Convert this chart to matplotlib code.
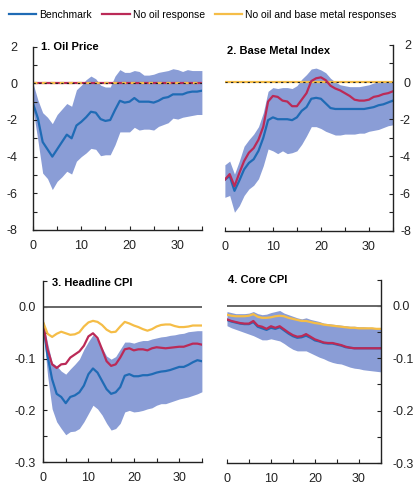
import matplotlib
matplotlib.use("Agg")
import matplotlib.pyplot as plt
from matplotlib.ticker import MultipleLocator, FormatStrFormatter
import numpy as np

plt.rcParams['font.family'] = ['Liberation Sans', 'DejaVu Sans']

horizon = list(range(36))

# Panel 1: Oil price
oil_bench = [-1.1,-1.9,-3.2,-3.6,-4.0,-3.6,-3.2,-2.8,-3.0,-2.3,-2.1,-1.85,-1.55,-1.6,-1.95,-2.05,-2.0,-1.45,-0.95,-1.05,-1.0,-0.8,-1.0,-1.0,-1.0,-1.05,-0.95,-0.8,-0.75,-0.6,-0.6,-0.6,-0.5,-0.45,-0.45,-0.4]
oil_hi = [0.0,-0.9,-1.6,-1.85,-2.2,-1.7,-1.4,-1.1,-1.25,-0.35,-0.1,0.2,0.4,0.25,-0.1,-0.2,-0.2,0.4,0.75,0.6,0.6,0.7,0.65,0.45,0.45,0.5,0.6,0.65,0.7,0.8,0.75,0.65,0.75,0.7,0.7,0.7]
oil_lo = [-1.4,-3.1,-4.9,-5.2,-5.8,-5.35,-5.1,-4.8,-4.95,-4.25,-4.0,-3.8,-3.55,-3.6,-3.95,-3.9,-3.9,-3.35,-2.65,-2.65,-2.65,-2.4,-2.55,-2.5,-2.5,-2.55,-2.35,-2.25,-2.15,-1.9,-1.95,-1.85,-1.8,-1.75,-1.7,-1.7]
oil_nooil = [0.0]*36
oil_nooilmetal = [0.0]*36

# Panel 2: Base metal index
bm_bench = [-5.25,-5.05,-5.85,-5.3,-4.7,-4.35,-4.15,-3.7,-3.0,-2.05,-1.9,-2.0,-2.0,-2.0,-2.05,-1.9,-1.55,-1.35,-0.9,-0.85,-0.9,-1.15,-1.4,-1.45,-1.45,-1.45,-1.45,-1.45,-1.45,-1.45,-1.4,-1.35,-1.25,-1.2,-1.1,-1.0]
bm_nooil = [-5.25,-4.95,-5.6,-4.9,-4.25,-3.8,-3.55,-3.1,-2.4,-1.05,-0.75,-0.8,-1.0,-1.05,-1.3,-1.3,-0.95,-0.6,0.05,0.2,0.25,0.1,-0.2,-0.35,-0.45,-0.6,-0.75,-0.95,-1.0,-1.0,-0.95,-0.8,-0.75,-0.65,-0.6,-0.5]
bm_nooilmetal = [0.0]*36
bm_hi = [-4.45,-4.25,-4.95,-4.25,-3.45,-3.1,-2.8,-2.4,-1.65,-0.5,-0.3,-0.35,-0.3,-0.3,-0.35,-0.2,0.15,0.4,0.7,0.75,0.65,0.5,0.2,0.0,-0.15,-0.2,-0.25,-0.25,-0.25,-0.2,-0.15,-0.05,0.0,0.0,0.05,0.05]
bm_lo = [-6.2,-6.1,-7.0,-6.65,-6.1,-5.75,-5.55,-5.2,-4.5,-3.6,-3.7,-3.85,-3.7,-3.85,-3.8,-3.7,-3.35,-2.9,-2.4,-2.4,-2.5,-2.65,-2.75,-2.85,-2.85,-2.8,-2.8,-2.8,-2.75,-2.75,-2.65,-2.6,-2.55,-2.45,-2.35,-2.3]

# Panel 3: Headline CPI
hcpi_bench = [-0.032,-0.095,-0.140,-0.168,-0.174,-0.186,-0.174,-0.171,-0.165,-0.152,-0.130,-0.119,-0.127,-0.143,-0.159,-0.168,-0.165,-0.155,-0.133,-0.130,-0.134,-0.134,-0.132,-0.132,-0.130,-0.127,-0.125,-0.124,-0.122,-0.119,-0.116,-0.116,-0.112,-0.107,-0.103,-0.105]
hcpi_nooil = [-0.032,-0.082,-0.111,-0.118,-0.111,-0.110,-0.098,-0.092,-0.086,-0.075,-0.057,-0.051,-0.060,-0.082,-0.105,-0.114,-0.111,-0.098,-0.082,-0.080,-0.084,-0.082,-0.082,-0.084,-0.080,-0.078,-0.079,-0.080,-0.079,-0.078,-0.077,-0.077,-0.074,-0.071,-0.071,-0.073]
hcpi_nooilmetal = [-0.029,-0.052,-0.058,-0.052,-0.048,-0.051,-0.054,-0.053,-0.049,-0.038,-0.030,-0.027,-0.029,-0.035,-0.044,-0.049,-0.048,-0.038,-0.029,-0.032,-0.036,-0.039,-0.043,-0.046,-0.043,-0.038,-0.035,-0.034,-0.034,-0.037,-0.039,-0.039,-0.038,-0.036,-0.036,-0.036]
hcpi_hi = [-0.029,-0.070,-0.108,-0.114,-0.124,-0.130,-0.120,-0.111,-0.101,-0.082,-0.067,-0.054,-0.063,-0.079,-0.095,-0.101,-0.096,-0.082,-0.068,-0.068,-0.070,-0.067,-0.065,-0.065,-0.062,-0.060,-0.058,-0.057,-0.055,-0.054,-0.052,-0.051,-0.048,-0.047,-0.046,-0.046]
hcpi_lo = [-0.041,-0.133,-0.197,-0.222,-0.235,-0.247,-0.241,-0.240,-0.235,-0.222,-0.206,-0.190,-0.197,-0.209,-0.225,-0.238,-0.235,-0.225,-0.203,-0.200,-0.203,-0.202,-0.200,-0.197,-0.195,-0.190,-0.187,-0.187,-0.184,-0.181,-0.178,-0.176,-0.174,-0.171,-0.168,-0.164]

# Panel 4: Core CPI
core_bench = [-0.027,-0.030,-0.032,-0.034,-0.035,-0.035,-0.031,-0.040,-0.043,-0.046,-0.042,-0.044,-0.041,-0.047,-0.053,-0.058,-0.061,-0.060,-0.057,-0.061,-0.066,-0.068,-0.071,-0.072,-0.072,-0.074,-0.076,-0.079,-0.080,-0.081,-0.081,-0.081,-0.081,-0.081,-0.081,-0.081]
core_nooil = [-0.026,-0.029,-0.031,-0.033,-0.034,-0.034,-0.029,-0.038,-0.040,-0.044,-0.039,-0.042,-0.039,-0.045,-0.051,-0.056,-0.059,-0.058,-0.054,-0.059,-0.064,-0.067,-0.070,-0.071,-0.071,-0.073,-0.075,-0.078,-0.080,-0.081,-0.081,-0.081,-0.081,-0.081,-0.081,-0.081]
core_nooilmetal = [-0.017,-0.019,-0.020,-0.020,-0.020,-0.019,-0.016,-0.021,-0.023,-0.023,-0.022,-0.020,-0.019,-0.020,-0.023,-0.025,-0.027,-0.029,-0.029,-0.031,-0.033,-0.034,-0.036,-0.037,-0.038,-0.039,-0.040,-0.041,-0.042,-0.042,-0.043,-0.043,-0.043,-0.043,-0.044,-0.044]
core_hi = [-0.011,-0.013,-0.015,-0.015,-0.015,-0.014,-0.011,-0.015,-0.017,-0.016,-0.013,-0.011,-0.009,-0.014,-0.017,-0.020,-0.023,-0.025,-0.023,-0.026,-0.028,-0.030,-0.033,-0.034,-0.035,-0.036,-0.037,-0.038,-0.039,-0.039,-0.040,-0.040,-0.041,-0.041,-0.042,-0.042]
core_lo = [-0.038,-0.042,-0.045,-0.048,-0.051,-0.054,-0.057,-0.061,-0.065,-0.065,-0.063,-0.065,-0.067,-0.072,-0.078,-0.083,-0.086,-0.086,-0.086,-0.090,-0.094,-0.098,-0.101,-0.105,-0.108,-0.110,-0.111,-0.114,-0.117,-0.119,-0.120,-0.122,-0.123,-0.124,-0.125,-0.126]

titles = ["1. Oil Price", "2. Base Metal Index", "3. Headline CPI", "4. Core CPI"]
legend_labels = ["Benchmark", "No oil response", "No oil and base metal responses"]

C_BLUE = '#1f6bb5'
C_RED = '#bb2a57'
C_YEL = '#f5bd47'
C_BAND = '#8a9dd6'

fig = plt.figure(figsize=(4.18, 4.87), dpi=100)

ax1 = fig.add_axes([0.079, 0.528, 0.404, 0.376])
ax2 = fig.add_axes([0.538, 0.526, 0.402, 0.382])
ax3 = fig.add_axes([0.103, 0.051, 0.380, 0.372])
ax4 = fig.add_axes([0.543, 0.049, 0.368, 0.377])

def style(ax, side, ylim, ymaj, ymin, fmt, ypad):
    ax.set_xlim(0, 35)
    ax.set_ylim(*ylim)
    for s in ['top', 'left', 'right']:
        ax.spines[s].set_visible(False)
    ax.spines[side].set_visible(True)
    for s in ['bottom', side]:
        ax.spines[s].set_linewidth(1.0)
        ax.spines[s].set_color('#222222')
    ax.xaxis.set_major_locator(MultipleLocator(10))
    ax.xaxis.set_minor_locator(MultipleLocator(5))
    ax.yaxis.set_major_locator(MultipleLocator(ymaj))
    ax.yaxis.set_minor_locator(MultipleLocator(ymin))
    ax.yaxis.set_major_formatter(FormatStrFormatter(fmt))
    ax.tick_params(axis='both', which='both', direction='in', length=3, width=0.8,
                   labelsize=9, colors='#222222')
    ax.tick_params(axis='x', pad=7)
    ax.tick_params(axis='y', pad=ypad)
    if side == 'right':
        ax.yaxis.tick_right()
        ax.yaxis.set_label_position('right')
    ax.patch.set_alpha(0)

# Panel 1
ax1.fill_between(horizon, oil_lo, oil_hi, color=C_BAND, lw=0)
ax1.plot(horizon, oil_nooil, color=C_RED, lw=1.6)
ax1.plot(horizon, oil_nooilmetal, color=C_YEL, lw=1.6, ls=(0, (2, 2)))
ax1.axhline(0, color='#222222', lw=0.8, ls=(0, (2, 3)))
ax1.plot(horizon, oil_bench, color=C_BLUE, lw=1.6)
style(ax1, 'left', (-8, 2), 2, 1, '%d', 11)

# Panel 2
ax2.fill_between(horizon, bm_lo, bm_hi, color=C_BAND, lw=0)
ax2.plot(horizon, bm_nooilmetal, color=C_YEL, lw=1.6)
ax2.axhline(0, color='#222222', lw=0.8, ls=(0, (2, 3)))
l_blue, = ax2.plot(horizon, bm_bench, color=C_BLUE, lw=1.6)
l_red, = ax2.plot(horizon, bm_nooil, color=C_RED, lw=1.6)
style(ax2, 'right', (-8, 2), 2, 1, '%d', 13)
for lab in ax2.get_yticklabels():
    lab.set_horizontalalignment('right')

# Panel 3
ax3.axhline(0, color='#666666', lw=1.4)
ax3.fill_between(horizon, hcpi_lo, hcpi_hi, color=C_BAND, lw=0)
ax3.plot(horizon, hcpi_bench, color=C_BLUE, lw=1.6)
ax3.plot(horizon, hcpi_nooil, color=C_RED, lw=1.6)
l_yel, = ax3.plot(horizon, hcpi_nooilmetal, color=C_YEL, lw=1.6)
style(ax3, 'left', (-0.3, 0.05), 0.1, 0.05, '%.1f', 5)

# Panel 4
ax4.axhline(0, color='#666666', lw=1.4)
ax4.fill_between(horizon, core_lo, core_hi, color=C_BAND, lw=0)
ax4.plot(horizon, core_bench, color=C_BLUE, lw=1.6)
ax4.plot(horizon, core_nooil, color=C_RED, lw=1.6)
ax4.plot(horizon, core_nooilmetal, color=C_YEL, lw=1.6)
style(ax4, 'right', (-0.3, 0.05), 0.1, 0.05, '%.1f', 8.5)

# Panel titles
tkw = dict(fontsize=8, fontweight='bold', va='center', ha='left')
ax1.text(0.047, 1.0, titles[0], transform=ax1.transAxes, **tkw)
ax2.text(0.012, 0.969, titles[1], transform=ax2.transAxes, **tkw)
ax3.text(0.057, 0.989, titles[2], transform=ax3.transAxes, **tkw)
ax4.text(0.006, 0.995, titles[3], transform=ax4.transAxes, **tkw)

fig.legend([l_blue, l_red, l_yel], legend_labels, loc='center left',
           bbox_to_anchor=(0.012, 0.970), ncol=3, frameon=False, fontsize=7.5,
           handlelength=2.6, handletextpad=0.3, columnspacing=1.0, borderaxespad=0)

fig.savefig('out.png', dpi=100)
